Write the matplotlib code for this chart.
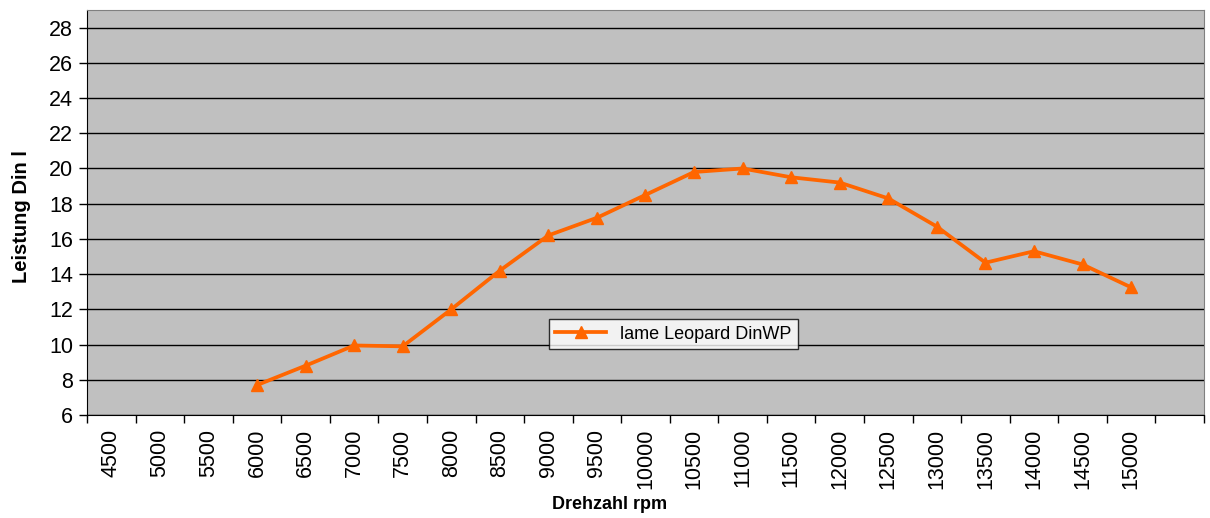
import numpy as np
import matplotlib
matplotlib.use("Agg")
import matplotlib.pyplot as plt
from matplotlib.ticker import FixedLocator, NullFormatter

plt.rcParams["font.family"] = ["Liberation Sans", "DejaVu Sans"]

# categories on the rpm axis (last slot is empty in the original)
rpm = ["4500", "5000", "5500", "6000", "6500", "7000", "7500", "8000", "8500",
       "9000", "9500", "10000", "10500", "11000", "11500", "12000", "12500",
       "13000", "13500", "14000", "14500", "15000", ""]
leistung = [np.nan, np.nan, np.nan, 7.7, 8.8, 9.95, 9.9, 12.0, 14.2,
            16.2, 17.2, 18.5, 19.8, 20.0, 19.5, 19.2, 18.3,
            16.7, 14.65, 15.3, 14.55, 13.25, np.nan]
yticks = list(range(6, 29, 2))

ORANGE = "#ff6600"
GREY = "#c0c0c0"

fig = plt.figure(figsize=(12.1, 5.18), dpi=100)
ax = fig.add_axes([0.0719, 0.1988, 0.9231, 0.7819])
ax.set_facecolor(GREY)

x = np.arange(len(rpm))
ax.plot(x, leistung, color=ORANGE, lw=2.7, marker="^", ms=8,
        label="lame Leopard DinWP", zorder=3)

ax.set_xlim(-0.5, len(rpm) - 0.5)
ax.set_ylim(6, 29)
ax.set_yticks(yticks)
ax.yaxis.grid(True, color="black", lw=1)
ax.set_axisbelow(True)

ax.xaxis.set_major_locator(FixedLocator(x))
ax.set_xticklabels(rpm, rotation=90, fontsize=15.5)
ax.xaxis.set_minor_locator(FixedLocator(np.arange(len(rpm) + 1) - 0.5))
ax.xaxis.set_minor_formatter(NullFormatter())
ax.tick_params(axis="x", which="major", length=0, pad=10)
ax.tick_params(axis="x", which="minor", length=6, width=1, color="black")
ax.tick_params(axis="y", labelsize=15.5, length=6, width=1, pad=4)

for s in ["top", "right"]:
    ax.spines[s].set_color("#808080")
for s in ["left", "bottom"]:
    ax.spines[s].set_color("black")

ax.set_ylabel("Leistung Din l", fontsize=14.5, fontweight="bold")
ax.yaxis.set_label_coords(-0.05, 0.49)
ax.set_xlabel("Drehzahl rpm", fontsize=13, fontweight="bold")
ax.xaxis.set_label_coords(0.468, -0.2)

leg = ax.legend(loc="lower left", bbox_to_anchor=(0.4136, 0.163), fontsize=13,
                frameon=True, fancybox=False, edgecolor="black",
                handlelength=2.8, borderpad=0.35, borderaxespad=0)
leg.get_frame().set_linewidth(1)

fig.savefig("out.png", dpi=100, facecolor="white")
